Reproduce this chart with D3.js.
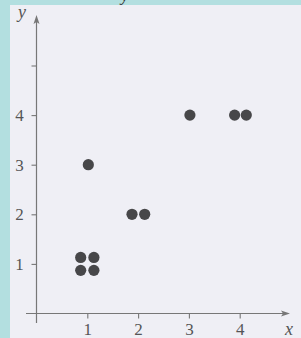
<!DOCTYPE html>
<html><head><meta charset="utf-8">
<script src="https://cdn.jsdelivr.net/npm/d3@7"></script>
<style>html,body{margin:0;padding:0;background:#b3dfe0;overflow:hidden}
text{font-family:"Liberation Serif",serif}</style>
</head><body>
<script>
// data (clustered points drawn slightly apart)
const pointX = [0.87, 1.13, 0.87, 1.13, 1.02, 1.88, 2.13, 3.02, 3.9, 4.13];
const pointY = [1.13, 1.13, 0.87, 0.87, 3.0, 2.0, 2.0, 4.0, 4.0, 4.0];
const xTicks = [1, 2, 3, 4];
const yTicks = [1, 2, 3, 4, 5];
const yTickLabels = ["1", "2", "3", "4", ""];

const W = 301, H = 338;
const FONT = '"Liberation Serif",serif';
const svg = d3.select("body").append("svg").attr("width", W).attr("height", H);
svg.append("rect").attr("x", 0).attr("y", 0).attr("width", W).attr("height", H).attr("fill", "#b3dfe0");
svg.append("rect").attr("x", 10).attr("y", 5).attr("width", W - 10).attr("height", H - 5).attr("fill", "#efeff5");

// stray glyph from the page above
svg.append("text").attr("x", 121).attr("y", 1).style("font-family", FONT)
  .attr("font-style", "italic").attr("font-size", 17).attr("fill", "#333").text("y");

const x = d3.scaleLinear().domain([0, 5]).range([36.5, 290.5]);
const y = d3.scaleLinear().domain([0, 5]).range([313.5, 65.5]);
const axisColor = "#777";
const textColor = "#555";

// axes lines
svg.append("line").attr("x1", 26).attr("x2", 284).attr("y1", y(0)).attr("y2", y(0))
  .attr("stroke", axisColor).attr("stroke-width", 1.2);
svg.append("line").attr("x1", x(0)).attr("x2", x(0)).attr("y1", 323).attr("y2", 22)
  .attr("stroke", axisColor).attr("stroke-width", 1.2);
// arrowheads
svg.append("path").attr("d", `M290,${y(0)} L281,${y(0) - 3} L283,${y(0)} L281,${y(0) + 3} Z`).attr("fill", axisColor);
svg.append("path").attr("d", `M${x(0)},15 L${x(0) - 3},24 L${x(0)},22 L${x(0) + 3},24 Z`).attr("fill", axisColor);

// ticks
const xAxis = d3.axisBottom(x).tickValues(xTicks).tickSize(5).tickPadding(6).tickFormat(d3.format("d"));
const gx = svg.append("g").attr("transform", `translate(0,${y(0)})`).call(xAxis);
gx.attr("font-family", null);
gx.select(".domain").remove();
gx.selectAll("line").attr("stroke", axisColor).attr("stroke-width", 1.1);
gx.selectAll("text").style("font-family", FONT).attr("font-size", 17).attr("fill", textColor)
  .attr("dy", "0.6em");

const yAxis = d3.axisLeft(y).tickValues(yTicks).tickSize(5).tickPadding(10).tickFormat((d, i) => yTickLabels[i]);
const gy = svg.append("g").attr("transform", `translate(${x(0)},0)`).call(yAxis);
gy.attr("font-family", null);
gy.select(".domain").remove();
gy.selectAll("line").attr("stroke", axisColor).attr("stroke-width", 1.1);
gy.selectAll("text").style("font-family", FONT).attr("font-size", 17).attr("fill", textColor)
  .attr("text-anchor", "middle").attr("x", -17);

// axis titles
svg.append("text").attr("x", 22).attr("y", 18).attr("text-anchor", "middle")
  .style("font-family", FONT).attr("font-style", "italic").attr("font-size", 18)
  .attr("fill", textColor).text("y");
svg.append("text").attr("x", 289).attr("y", 335).attr("text-anchor", "middle")
  .style("font-family", FONT).attr("font-style", "italic").attr("font-size", 18)
  .attr("fill", textColor).text("x");

// points
svg.append("g").selectAll("circle").data(pointX.map((v, i) => [v, pointY[i]])).join("circle")
  .attr("cx", d => x(d[0])).attr("cy", d => y(d[1])).attr("r", 5.6).attr("fill", "#474749");
</script>
</body></html>
